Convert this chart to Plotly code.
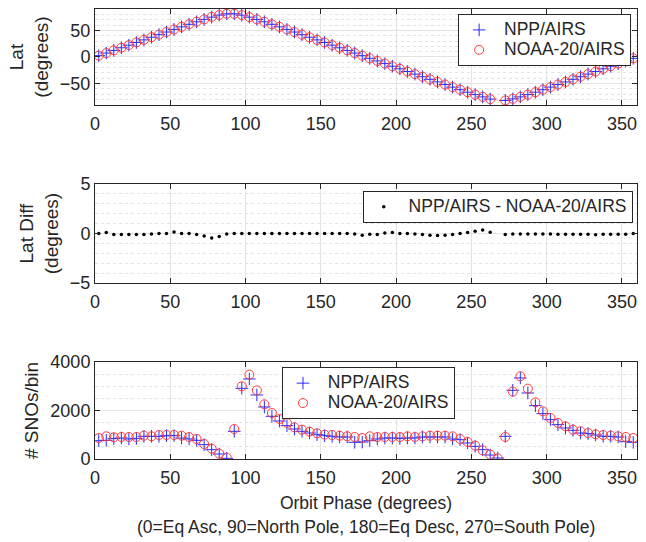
import plotly.graph_objects as go

phase = [2.5, 7.5, 12.5, 17.5, 22.5, 27.5, 32.5, 37.5, 42.5, 47.5, 52.5, 57.5,
         62.5, 67.5, 72.5, 77.5, 82.5, 87.5, 92.5, 97.5, 102.5, 107.5, 112.5, 117.5,
         122.5, 127.5, 132.5, 137.5, 142.5, 147.5, 152.5, 157.5, 162.5, 167.5, 172.5, 177.5,
         182.5, 187.5, 192.5, 197.5, 202.5, 207.5, 212.5, 217.5, 222.5, 227.5, 232.5, 237.5,
         242.5, 247.5, 252.5, 257.5, 262.5, 267.5, 272.5, 277.5, 282.5, 287.5, 292.5, 297.5,
         302.5, 307.5, 312.5, 317.5, 322.5, 327.5, 332.5, 337.5, 342.5, 347.5, 352.5, 357.5]

lat_npp = [2.5, 7.4, 12.4, 17.3, 22.2, 27.2, 32.1, 37.0, 41.9, 46.8, 51.7, 56.5,
           61.3, 66.0, 70.5, 74.8, 78.5, 81.0, 81.0, 78.5, 74.8, 70.5, 66.0, 61.3,
           56.5, 51.7, 46.8, 41.9, 37.0, 32.1, 27.2, 22.2, 17.3, 12.4, 7.4, 2.5,
           -2.5, -7.4, -12.4, -17.3, -22.2, -27.2, -32.1, -37.0, -41.9, -46.8, -51.7, -56.5,
           -61.3, -66.0, -70.5, -74.8, -79.0, None, -81.5, -78.5, -74.8, -70.5, -66.0, -61.3,
           -56.5, -51.7, -46.8, -41.9, -37.0, -32.1, -27.2, -22.2, -17.3, -12.4, -7.4, -2.5]

lat_n20 = [2.5, 7.3, 12.5, 17.4, 22.3, 27.3, 32.2, 37.1, 41.9, 46.8, 51.6, 56.5,
           61.3, 66.1, 70.7, 75.2, 78.8, 81.0, 81.0, 78.5, 74.8, 70.5, 66.0, 61.3,
           56.5, 51.7, 46.8, 41.9, 37.0, 32.1, 27.2, 22.2, 17.3, 12.4, 7.4, 2.5,
           -2.5, -7.4, -12.4, -17.3, -22.2, -27.2, -32.1, -37.0, -41.9, -46.8, -51.7, -56.5,
           -61.3, -66.0, -70.5, -74.8, -79.0, None, -81.5, -78.5, -74.8, -70.5, -66.0, -61.3,
           -56.5, -51.7, -46.8, -41.9, -37.0, -32.1, -27.2, -22.2, -17.3, -12.4, -7.4, -2.5]

lat_diff = [0.0, 0.1, -0.1, -0.1, -0.1, -0.1, -0.1, -0.05, 0.0, 0.0, 0.15, 0.0,
            0.0, -0.1, -0.25, -0.45, -0.3, -0.05, 0.0, 0.0, 0.0, 0.0, 0.0, 0.0,
            0.0, 0.0, 0.0, 0.0, 0.0, 0.0, 0.0, 0.0, 0.0, 0.0, -0.05, -0.17,
            -0.07, -0.1, 0.05, 0.1, 0.0, 0.0, -0.05, -0.1, -0.17, -0.2, -0.17, -0.1,
            0.0, 0.1, 0.23, 0.37, 0.13, None, -0.1, -0.05, -0.05, -0.05, -0.05, -0.05,
            -0.05, -0.07, -0.07, -0.07, -0.07, -0.07, -0.13, -0.07, -0.07, -0.07, -0.07, 0.0]

sno_npp = [756, 770, 839, 866, 825, 850, 935, 935, 935, 962, 962, 866,
           825, 770, 591, 385, 206, 27, 1141, 2915, 3300, 2640, 2145, 1760,
           1567, 1375, 1237, 1141, 1072, 1004, 962, 935, 907, 907, 688, 701,
           756, 825, 866, 866, 850, 866, 866, 907, 907, 907, 907, 825,
           797, 660, 522, 385, 165, 41, 935, 2832, 3341, 2722, 2200, 1870,
           1622, 1416, 1279, 1182, 1072, 1045, 990, 935, 935, 907, 715, 688]

sno_n20 = [866, 935, 894, 907, 907, 907, 962, 935, 990, 990, 990, 962,
           907, 825, 619, 426, 220, 55, 1237, 2997, 3479, 2832, 2255, 1897,
           1650, 1485, 1306, 1210, 1127, 1059, 1004, 990, 962, 935, 907, 866,
           935, 907, 907, 907, 907, 935, 907, 935, 962, 962, 962, 935,
           825, 701, 550, 357, 179, 27, 907, 2777, 3410, 2901, 2337, 1966,
           1691, 1485, 1347, 1210, 1141, 1072, 1017, 990, 962, 935, 907, 866]

x_ticks = [0, 50, 100, 150, 200, 250, 300, 350]

FONT = "Liberation Sans, Arial, Helvetica, sans-serif"
BLUE = "#2a2aff"
RED = "#ff3b3b"
AX = "#262626"


def big(t):
    return '<span style="font-size:17.5px"> ' + t + '</span>'


fig = go.Figure()

plus = dict(symbol="cross-thin", size=9, line=dict(color=BLUE, width=1), color=BLUE)
circ = dict(symbol="circle-open", size=9, color=RED, line=dict(width=1))

fig.add_trace(go.Scatter(x=phase, y=lat_npp, mode="markers", marker=plus, name=big("NPP/AIRS"),
                         xaxis="x", yaxis="y", legend="legend"))
fig.add_trace(go.Scatter(x=phase, y=lat_n20, mode="markers", marker=circ, name=big("NOAA-20/AIRS"),
                         xaxis="x", yaxis="y", legend="legend"))
fig.add_trace(go.Scatter(x=phase, y=lat_diff, mode="markers",
                         marker=dict(symbol="circle", size=3.5, color="black"),
                         name=big("NPP/AIRS - NOAA-20/AIRS"), xaxis="x2", yaxis="y2", legend="legend2"))
fig.add_trace(go.Scatter(x=phase, y=sno_npp, mode="markers", marker=plus, name=big("NPP/AIRS"),
                         xaxis="x3", yaxis="y3", legend="legend3"))
fig.add_trace(go.Scatter(x=phase, y=sno_n20, mode="markers", marker=circ, name=big("NOAA-20/AIRS"),
                         xaxis="x3", yaxis="y3", legend="legend3"))

common_x = dict(range=[0, 360], tickvals=x_ticks, ticks="inside", ticklen=5, tickcolor=AX,
                showline=True, linecolor=AX, linewidth=1, mirror="ticks",
                showgrid=True, gridcolor="#e3e3e3", gridwidth=1, zeroline=False,
                tickfont=dict(size=18, color="#262626"), ticklabelstandoff=2,
                automargin=False)


def yax(rng, tv, minor_dt, domain, title):
    return dict(range=rng, tickvals=tv, ticks="inside", ticklen=5, tickcolor=AX,
                showline=True, linecolor=AX, linewidth=1, mirror="ticks",
                showgrid=True, gridcolor="#e3e3e3", gridwidth=1, zeroline=False,
                minor=dict(dtick=minor_dt, showgrid=True, gridcolor="#e3e3e3",
                           griddash="dot", gridwidth=1, ticks=""),
                tickfont=dict(size=18, color="#262626"), domain=domain, automargin=False,
                title=dict(text=title, font=dict(size=19, color="#262626"), standoff=6))


LEG = dict(xanchor="left", yanchor="top", bgcolor="white", bordercolor=AX, borderwidth=1,
           font=dict(size=13, color="#262626"), tracegroupgap=0, itemwidth=30)

fig.update_layout(
    width=646, height=542,
    margin=dict(l=95, r=9, t=9, b=83, autoexpand=False),
    paper_bgcolor="white", plot_bgcolor="white",
    font=dict(family=FONT, color="#262626"),
    xaxis=dict(common_x, anchor="y"),
    yaxis=yax([-90, 90], [-50, 0, 50], 10, [0.7867, 1.0], "Lat<br>(degrees)"),
    xaxis2=dict(common_x, anchor="y2"),
    yaxis2=yax([-5, 5], [-5, 0, 5], 1, [0.391, 0.611], "Lat Diff<br>(degrees)"),
    xaxis3=dict(common_x, anchor="y3",
                title=dict(text="Orbit Phase (degrees)",
                           font=dict(size=17.5, color="#262626"), standoff=10)),
    yaxis3=yax([0, 4000], [0, 2000, 4000], 500, [0.0, 0.2156], "# SNOs/bin"),
    legend=dict(LEG, x=0.670, y=0.989),
    legend2=dict(LEG, x=0.494, y=0.596),
    legend3=dict(LEG, x=0.345, y=0.204),
    annotations=[dict(text="(0=Eq Asc, 90=North Pole, 180=Eq Desc, 270=South Pole)",
                      xref="paper", yref="paper", x=0.5, y=-0.151,
                      xanchor="center", yanchor="middle", showarrow=False,
                      font=dict(size=17.5, color="#262626"))],
)

fig.write_html("out.html", config={"displayModeBar": False})

# remove the default page margin so the figure sits at the window's top-left corner
with open("out.html", "r", encoding="utf-8") as f:
    html = f.read()
html = html.replace("<head>", "<head><style>html,body{margin:0;padding:0;}</style>", 1)
with open("out.html", "w", encoding="utf-8") as f:
    f.write(html)
